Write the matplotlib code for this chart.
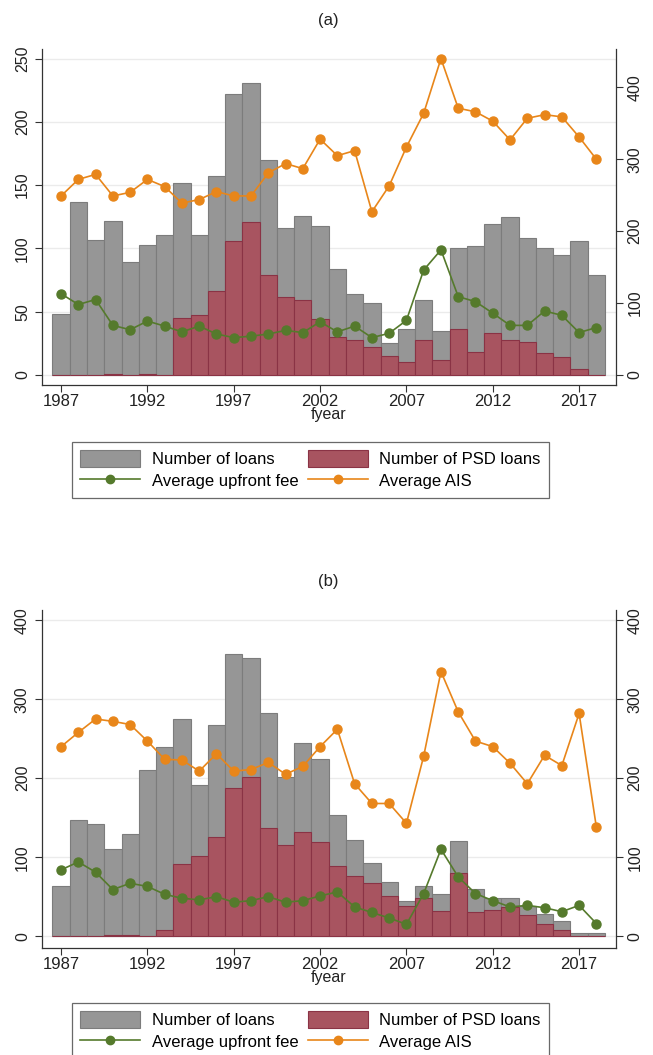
import numpy as np
import matplotlib
matplotlib.use("Agg")
import matplotlib.pyplot as plt
from matplotlib.patches import Patch
from matplotlib.lines import Line2D

plt.rcParams['font.family'] = ['Liberation Sans', 'DejaVu Sans']

years = list(range(1987, 2019))

# panel (a)
loans_a = [48, 137, 107, 122, 89, 103, 111, 152, 111, 157, 222, 231, 170, 116, 126, 118,
           84, 64, 57, 25, 36, 59, 35, 100, 102, 119, 125, 108, 100, 95, 106, 79]
psd_a = [0, 0, 0, 1, 0, 1, 0, 45, 47, 66, 106, 121, 79, 62, 59, 44,
         30, 28, 22, 15, 10, 28, 12, 36, 18, 33, 28, 26, 17, 14, 5, 0]
fee_a = [113, 98, 105, 69, 63, 75, 68, 60, 68, 57, 52, 54, 57, 62, 59, 74,
         60, 68, 52, 58, 76, 146, 174, 109, 102, 86, 69, 69, 89, 83, 59, 66]
ais_a = [249, 272, 279, 249, 254, 272, 262, 239, 244, 255, 249, 249, 281, 294, 287, 328,
         305, 312, 227, 263, 317, 364, 440, 371, 366, 353, 327, 357, 362, 359, 331, 300]

# panel (b)
loans_b = [64, 147, 142, 110, 130, 210, 240, 275, 191, 268, 357, 352, 283, 201, 245, 224,
           153, 122, 93, 69, 44, 63, 54, 120, 60, 48, 48, 38, 28, 19, 4, 4]
psd_b = [0, 0, 0, 1, 1, 0, 8, 92, 102, 126, 188, 201, 137, 116, 132, 119,
         89, 76, 67, 51, 38, 48, 32, 80, 30, 33, 37, 27, 15, 8, 0, 0]
fee_b = [84, 94, 81, 59, 67, 63, 53, 48, 46, 50, 43, 45, 50, 43, 45, 51,
         56, 37, 30, 23, 15, 54, 110, 75, 54, 45, 37, 39, 36, 31, 39, 16]
ais_b = [240, 258, 275, 272, 268, 247, 224, 223, 209, 231, 209, 211, 220, 205, 215, 240,
         262, 193, 168, 168, 143, 228, 335, 284, 247, 240, 219, 193, 229, 216, 282, 138]

GRAY = '#969696'
GRAY_EDGE = '#7c7c7c'
RED = '#a85460'
RED_EDGE = '#8a3345'
ORANGE = '#e8861a'
GREEN = '#557a2c'
FS = 11.5


def draw_panel(fig, rect, title, loans, psd, fee, ais, lticks, lylim, rticks, rylim):
    ax = fig.add_axes(rect)
    ax.bar(years, loans, width=1.0, color=GRAY, edgecolor=GRAY_EDGE, linewidth=0.8, zorder=2)
    ax.bar(years, psd, width=1.0, color=RED, edgecolor=RED_EDGE, linewidth=0.8, zorder=3)
    ax.set_xlim(1985.88, 2019.12)
    ax.set_ylim(*lylim)
    ax.set_yticks(lticks)
    ax.set_xticks(range(1987, 2019, 5))
    for t in lticks:
        ax.axhline(t, color='#ebebeb', lw=1.0, zorder=1)
    ax.spines['top'].set_visible(False)
    ax.spines['right'].set_visible(False)
    for s in ('left', 'bottom'):
        ax.spines[s].set_color('#333333')
        ax.spines[s].set_linewidth(0.9)
    ax.tick_params(axis='y', labelsize=FS, length=5, color='#333333', labelcolor='#222222')
    ax.tick_params(axis='x', labelsize=FS + 0.5, length=5, color='#333333', labelcolor='#222222', pad=1.5)
    for lab in ax.get_yticklabels():
        lab.set_rotation(90)
        lab.set_va('center')
    ax.set_xlabel('fyear', fontsize=FS, labelpad=-1.5, color='#222222')
    ax.set_title(title, fontsize=12, pad=17, color='#222222')

    ax2 = ax.twinx()
    ax2.plot(years, fee, color=GREEN, lw=1.2, marker='o', ms=6.5, zorder=4)
    ax2.plot(years, ais, color=ORANGE, lw=1.2, marker='o', ms=6.5, zorder=4)
    ax2.set_ylim(*rylim)
    ax2.set_yticks(rticks)
    ax2.spines['top'].set_visible(False)
    ax2.spines['left'].set_visible(False)
    ax2.spines['bottom'].set_visible(False)
    ax2.spines['right'].set_color('#333333')
    ax2.spines['right'].set_linewidth(0.9)
    ax2.tick_params(axis='y', labelsize=FS, length=5, color='#333333', labelcolor='#222222')
    for lab in ax2.get_yticklabels():
        lab.set_rotation(90)
        lab.set_va('center')
    return ax


def add_legend(fig, top):
    handles = [
        Patch(facecolor=GRAY, edgecolor=GRAY_EDGE, linewidth=0.8),
        Patch(facecolor=RED, edgecolor=RED_EDGE, linewidth=0.8),
        Line2D([], [], color=GREEN, lw=1.2, marker='o', ms=6),
        Line2D([], [], color=ORANGE, lw=1.2, marker='o', ms=6),
    ]
    labels = ['Number of loans', 'Average upfront fee', 'Number of PSD loans', 'Average AIS']
    order = [0, 2, 1, 3]
    leg = fig.legend([handles[i] for i in order], labels, ncol=2, loc='upper left',
                     bbox_to_anchor=(0.110, top - 0.05, 0.731, 0.05), mode='expand',
                     fontsize=FS + 0.5, frameon=True, fancybox=False, edgecolor='#444444',
                     handlelength=3.6, handleheight=1.15, borderpad=0.5,
                     labelspacing=0.3, handletextpad=0.7, columnspacing=1.5,
                     borderaxespad=0)
    leg.get_frame().set_linewidth(0.9)
    return leg


fig = plt.figure(figsize=(6.53, 10.55), dpi=100)

draw_panel(fig, [0.0639, 0.635, 0.879, 0.319], '(a)', loans_a, psd_a, fee_a, ais_a,
           [0, 50, 100, 150, 200, 250], (-8, 258), [0, 100, 200, 300, 400], (-14, 454))
add_legend(fig, 0.581)

draw_panel(fig, [0.0639, 0.1014, 0.879, 0.3204], '(b)', loans_b, psd_b, fee_b, ais_b,
           [0, 100, 200, 300, 400], (-15, 413), [0, 100, 200, 300, 400], (-15, 413))
add_legend(fig, 0.0493)

fig.savefig('out.png', dpi=100, facecolor='white')
